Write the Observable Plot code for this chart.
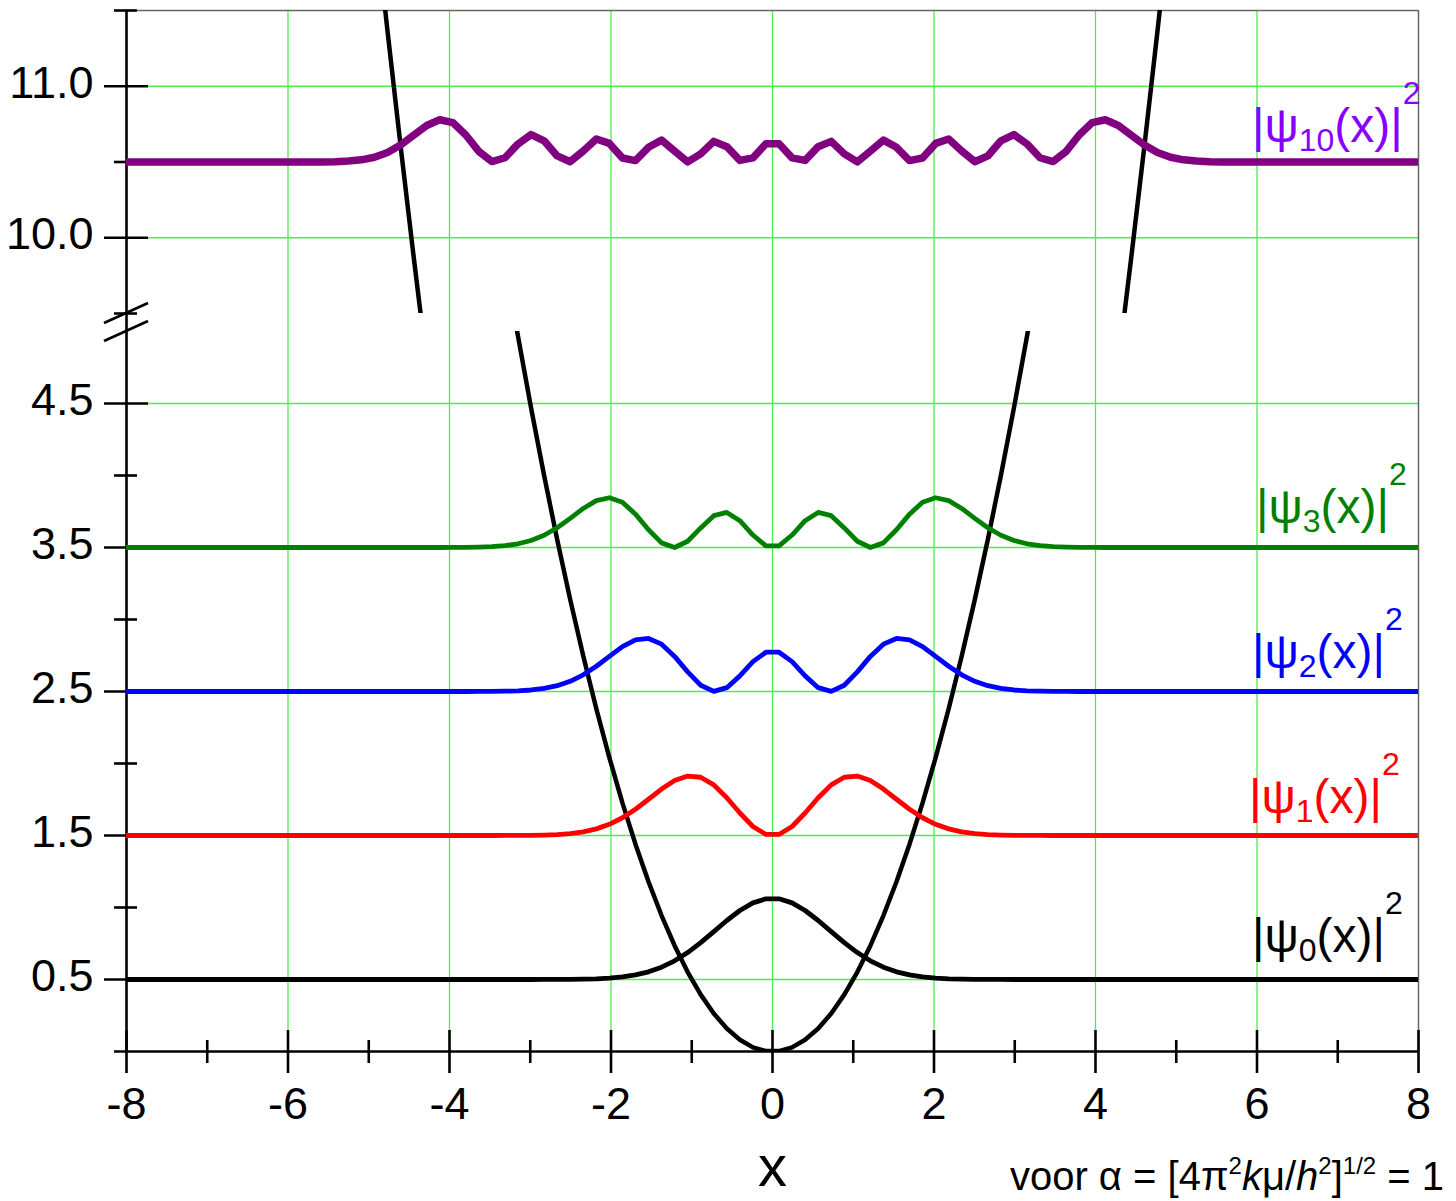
<!DOCTYPE html>
<html>
<head>
<meta charset="utf-8">
<script src="https://cdn.jsdelivr.net/npm/d3@7"></script>
<script src="https://cdn.jsdelivr.net/npm/@observablehq/plot@0.6"></script>
<style>
html, body { margin: 0; padding: 0; background: #ffffff; }
#chart { position: relative; width: 1456px; height: 1201px; overflow: hidden; background: #ffffff; }
#chart svg { position: absolute; left: 0; }
</style>
</head>
<body>
<div id="chart"></div>
<script>
// ---------- data ----------
const xs = [-8,
  -5.7374, -5.5758, -5.4141, -5.2525, -5.0909, -4.9293, -4.7677, -4.6061, -4.4444, -4.2828, -4.1212, -3.9596,
  -3.7980, -3.6364, -3.4747, -3.3131, -3.1515, -2.9899, -2.8283, -2.6667, -2.5051, -2.3434, -2.1818, -2.0202,
  -1.8586, -1.6970, -1.5354, -1.3737, -1.2121, -1.0505, -0.8889, -0.7273, -0.5657, -0.4040, -0.2424, -0.0808,
  0.0808, 0.2424, 0.4040, 0.5657, 0.7273, 0.8889, 1.0505, 1.2121, 1.3737, 1.5354, 1.6970, 1.8586,
  2.0202, 2.1818, 2.3434, 2.5051, 2.6667, 2.8283, 2.9899, 3.1515, 3.3131, 3.4747, 3.6364, 3.7980,
  3.9596, 4.1212, 4.2828, 4.4444, 4.6061, 4.7677, 4.9293, 5.0909, 5.2525, 5.4141, 5.5758, 5.7374,
  8];

// potential energy V(x)
const potential = [32,
  16.459, 15.545, 14.656, 13.795, 12.959, 12.149, 11.365, 10.608, 9.877, 9.171, 8.492, 7.839,
  7.212, 6.612, 6.037, 5.488, 4.966, 4.470, 4.000, 3.556, 3.138, 2.746, 2.380, 2.041,
  1.727, 1.440, 1.179, 0.944, 0.735, 0.552, 0.395, 0.264, 0.160, 0.082, 0.029, 0.003,
  0.003, 0.029, 0.082, 0.160, 0.264, 0.395, 0.552, 0.735, 0.944, 1.179, 1.440, 1.727,
  2.041, 2.380, 2.746, 3.138, 3.556, 4.000, 4.470, 4.966, 5.488, 6.037, 6.612, 7.212,
  7.839, 8.492, 9.171, 9.877, 10.608, 11.365, 12.149, 12.959, 13.795, 14.656, 15.545, 16.459,
  32];

// energy levels (baselines of the densities)
const levels = [0.5, 1.5, 2.5, 3.5, 10.5];
const levelNames = ["0", "1", "2", "3", "10"];

// |psi_n(x)|^2 at the same x positions
const psi0 = [0,
  0, 0, 0, 0, 0, 0, 0, 0, 0, 0, 0, 0, 0, 0, 0, 0, 0,
  0.0001, 0.0002, 0.0005, 0.0011, 0.0023, 0.0048, 0.0095, 0.0178, 0.0317, 0.0534, 0.0855, 0.1298, 0.1871, 0.2560, 0.3324, 0.4097, 0.4792, 0.5320, 0.5605,
  0.5605, 0.5320, 0.4792, 0.4097, 0.3324, 0.2560, 0.1871, 0.1298, 0.0855, 0.0534, 0.0317, 0.0178, 0.0095, 0.0048, 0.0023, 0.0011, 0.0005, 0.0002, 0.0001,
  0, 0, 0, 0, 0, 0, 0, 0, 0, 0, 0, 0, 0, 0, 0, 0, 0,
  0];
const psi1 = [0,
  0, 0, 0, 0, 0, 0, 0, 0, 0, 0, 0, 0, 0, 0, 0,
  0.0002, 0.0005, 0.0013, 0.0030, 0.0065, 0.0133, 0.0255, 0.0460, 0.0778, 0.1232, 0.1825, 0.2518, 0.3226, 0.3815, 0.4130, 0.4046, 0.3517, 0.2622, 0.1565, 0.0625, 0.0073,
  0.0073, 0.0625, 0.1565, 0.2622, 0.3517, 0.4046, 0.4130, 0.3815, 0.3226, 0.2518, 0.1825, 0.1232, 0.0778, 0.0460, 0.0255, 0.0133, 0.0065, 0.0030, 0.0013, 0.0005, 0.0002,
  0, 0, 0, 0, 0, 0, 0, 0, 0, 0, 0, 0, 0, 0, 0,
  0];
const psi2 = [0,
  0, 0, 0, 0, 0, 0, 0, 0, 0, 0, 0, 0,
  0.0001, 0.0003, 0.0009, 0.0021, 0.0049, 0.0105, 0.0213, 0.0402, 0.0708, 0.1159, 0.1754, 0.2444, 0.3113, 0.3588, 0.3685, 0.3289, 0.2439, 0.1363, 0.0431, 0.0006, 0.0266, 0.1087, 0.2071, 0.2730,
  0.2730, 0.2071, 0.1087, 0.0266, 0.0006, 0.0431, 0.1363, 0.2439, 0.3289, 0.3685, 0.3588, 0.3113, 0.2444, 0.1754, 0.1159, 0.0708, 0.0402, 0.0213, 0.0105, 0.0049, 0.0021, 0.0009, 0.0003, 0.0001,
  0, 0, 0, 0, 0, 0, 0, 0, 0, 0, 0, 0,
  0];
const psi3 = [0,
  0, 0, 0, 0, 0, 0, 0, 0, 0, 0,
  0.0001, 0.0004, 0.0010, 0.0025, 0.0058, 0.0127, 0.0258, 0.0488, 0.0853, 0.1374, 0.2026, 0.2713, 0.3259, 0.3454, 0.3137, 0.2315, 0.1234, 0.0322, 0.0002, 0.0433, 0.1359, 0.2211, 0.2434, 0.1864, 0.0866, 0.0109,
  0.0109, 0.0866, 0.1864, 0.2434, 0.2211, 0.1359, 0.0433, 0.0002, 0.0322, 0.1234, 0.2315, 0.3137, 0.3454, 0.3259, 0.2713, 0.2026, 0.1374, 0.0853, 0.0488, 0.0258, 0.0127, 0.0058, 0.0025, 0.0010, 0.0004, 0.0001,
  0, 0, 0, 0, 0, 0, 0, 0, 0, 0,
  0];
const psi10 = [0,
  0.0002, 0.0008, 0.0022, 0.0059, 0.0143, 0.0316, 0.0628, 0.1120, 0.1763, 0.2411, 0.2789, 0.2603,
  0.1785, 0.0697, 0.0029, 0.0281, 0.1192, 0.1805, 0.1399, 0.0401, 0.0019, 0.0727, 0.1521, 0.1229,
  0.0263, 0.0094, 0.0971, 0.1446, 0.0712, 0.0005, 0.0535, 0.1362, 0.1011, 0.0106, 0.0274, 0.1207,
  0.1207, 0.0274, 0.0106, 0.1011, 0.1362, 0.0535, 0.0005, 0.0712, 0.1446, 0.0971, 0.0094, 0.0263,
  0.1229, 0.1521, 0.0727, 0.0019, 0.0401, 0.1399, 0.1805, 0.1192, 0.0281, 0.0029, 0.0697, 0.1785,
  0.2603, 0.2789, 0.2411, 0.1763, 0.1120, 0.0628, 0.0316, 0.0143, 0.0059, 0.0022, 0.0008, 0.0002,
  0];

// ticks
const xMajor = [-8, -6, -4, -2, 0, 2, 4, 6, 8];
const xMajorLabels = ["-8", "-6", "-4", "-2", "0", "2", "4", "6", "8"];
const xMinor = [-7, -5, -3, -1, 1, 3, 5, 7];
const xGrid = [-6, -4, -2, 0, 2, 4, 6];
const yMajorLow = [0.5, 1.5, 2.5, 3.5, 4.5];
const yMajorLowLabels = ["0.5", "1.5", "2.5", "3.5", "4.5"];
const yMinorLow = [1, 2, 3, 4];
const yMajorUp = [10, 11];
const yMajorUpLabels = ["10.0", "11.0"];
const yMinorUp = [9.5, 10.5, 11.5];

// ---------- styling ----------
const W = 1456, ML = 126, MR = 38;
const PW = W - ML - MR; // plot width 1292
const FONT = '"Liberation Sans", Arial, Helvetica, sans-serif';
const GRID = "#4cee4c";
const FRAME = "#666666";
const AXW = 2.6;
const lineColors = ["#000000", "#ff0000", "#0000ff", "#008000", "#800080"];
const labelColors = ["#000000", "#ff0000", "#0000ff", "#008000", "#8800ff"];
const lineWidths = [4.8, 4.8, 4.8, 4.8, 7.5];
const dens = [psi0, psi1, psi2, psi3, psi10];

const seriesRows = dens.map((d, k) => xs.map((x, i) => ({x, y: levels[k] + d[i]})));
const potRows = xs.map((x, i) => ({x, y: potential[i]}));

const base = {
  width: W, marginLeft: ML, marginRight: MR,
  x: {domain: [-8, 8], axis: null},
  style: {background: "transparent", overflow: "visible", fontFamily: FONT}
};

// ---------- upper panel (9.5 .. 11.5) ----------
const upper = Plot.plot({
  ...base,
  height: 331, marginTop: 10, marginBottom: 18,
  y: {domain: [9.5, 11.5], axis: null},
  marks: [
    Plot.ruleX(xGrid, {stroke: GRID, strokeWidth: 1.3}),
    Plot.ruleY(yMajorUp, {stroke: GRID, strokeWidth: 1.3}),
    Plot.ruleX([8], {stroke: FRAME, strokeWidth: 1.5}),
    Plot.ruleY([11.5], {stroke: FRAME, strokeWidth: 1.5}),
    Plot.tickY(yMajorUp, {stroke: "black", strokeWidth: AXW, insetLeft: -22, insetRight: PW - 22}),
    Plot.tickY(yMinorUp, {stroke: "black", strokeWidth: AXW, insetLeft: -12, insetRight: PW - 11}),
    Plot.ruleX([-8], {stroke: "black", strokeWidth: AXW}),
    Plot.text(yMajorUp, {y: d => d, text: (d, i) => yMajorUpLabels[i], frameAnchor: "left", textAnchor: "end", dx: -33, dy: -3, fontSize: 45, fill: "black"}),
    Plot.line(potRows, {x: "x", y: "y", stroke: "black", strokeWidth: 4.5, clip: true}),
    Plot.line(seriesRows[4], {x: "x", y: "y", stroke: lineColors[4], strokeWidth: lineWidths[4], clip: true})
  ]
});

// ---------- lower panel (0 .. 5) ----------
const LH = 901, LMT = 31, LMB = 150;
const FH = LH - LMT - LMB; // 720
const lower = Plot.plot({
  ...base,
  height: LH, marginTop: LMT, marginBottom: LMB,
  y: {domain: [0, 5], axis: null},
  marks: [
    Plot.ruleX(xGrid, {stroke: GRID, strokeWidth: 1.3, insetTop: -18}),
    Plot.ruleY(yMajorLow, {stroke: GRID, strokeWidth: 1.3}),
    Plot.ruleX([8], {stroke: FRAME, strokeWidth: 1.5, insetTop: -18}),
    Plot.tickY(yMajorLow, {stroke: "black", strokeWidth: AXW, insetLeft: -22, insetRight: PW - 22}),
    Plot.tickY(yMinorLow, {stroke: "black", strokeWidth: AXW, insetLeft: -12, insetRight: PW - 11}),
    Plot.tickX(xMajor, {x: d => d, stroke: "black", strokeWidth: AXW, insetTop: FH - 21, insetBottom: -22}),
    Plot.tickX(xMinor, {x: d => d, stroke: "black", strokeWidth: AXW, insetTop: FH - 11, insetBottom: -12}),
    Plot.ruleX([-8], {stroke: "black", strokeWidth: AXW, insetTop: -18}),
    Plot.ruleY([0], {stroke: "black", strokeWidth: AXW, insetLeft: -12}),
    Plot.text(yMajorLow, {y: d => d, text: (d, i) => yMajorLowLabels[i], frameAnchor: "left", textAnchor: "end", dx: -33, dy: -3, fontSize: 45, fill: "black"}),
    Plot.text(xMajor, {x: d => d, text: (d, i) => xMajorLabels[i], frameAnchor: "bottom", dy: 67, fontSize: 45, fill: "black"}),
    Plot.text([0], {x: d => d, text: () => "x", frameAnchor: "bottom", dy: 134, fontSize: 58, fill: "black"}),
    Plot.line(potRows, {x: "x", y: "y", stroke: "black", strokeWidth: 4.5, clip: true}),
    ...[3, 2, 1, 0].map(k => Plot.line(seriesRows[k], {x: "x", y: "y", stroke: lineColors[k], strokeWidth: lineWidths[k], clip: true}))
  ]
});

const chart = document.getElementById("chart");
upper.style.top = "0px";
lower.style.top = "300px";
chart.appendChild(lower);
chart.appendChild(upper);

// axis break marks on the y axis (at the two panel edges)
const brk = d3.select(lower).append("g").attr("stroke", "black").attr("stroke-width", AXW);
[LMT - 18, LMT].forEach(yy => {
  brk.append("line").attr("x1", ML - 22).attr("y1", yy + 10).attr("x2", ML + 22).attr("y2", yy - 10);
});

// ---------- curve labels and formula ----------
const ov = d3.select(chart).append("svg")
  .attr("width", W).attr("height", 1201)
  .style("position", "absolute").style("left", "0px").style("top", "0px")
  .attr("font-family", FONT);

const labelX = [1252, 1249, 1252, 1256, 1252];
const labelY = [952, 813, 668, 523, 142];
const LFS = 48, SFS = 32;
levelNames.forEach((n, i) => {
  const t = ov.append("text").attr("x", labelX[i]).attr("y", labelY[i]).attr("fill", labelColors[i]).attr("font-size", LFS);
  t.append("tspan").text("|ψ");
  t.append("tspan").attr("font-size", SFS).attr("dy", 9).text(n);
  t.append("tspan").attr("dy", -9).text("(x)|");
  t.append("tspan").attr("font-size", SFS).attr("dy", -38).text("2");
});

const f = ov.append("text").attr("x", 1444).attr("y", 1190).attr("text-anchor", "end").attr("font-size", 40).attr("fill", "black");
f.append("tspan").text("voor α = [4π");
f.append("tspan").attr("font-size", 24).attr("dy", -16).text("2");
f.append("tspan").attr("dy", 16).attr("font-style", "italic").text("k");
f.append("tspan").text("μ/");
f.append("tspan").attr("font-style", "italic").text("h");
f.append("tspan").attr("font-size", 24).attr("dy", -16).text("2");
f.append("tspan").attr("dy", 16).text("]");
f.append("tspan").attr("font-size", 24).attr("dy", -16).text("1/2");
f.append("tspan").attr("dy", 16).text(" = 1");
</script>
</body>
</html>
